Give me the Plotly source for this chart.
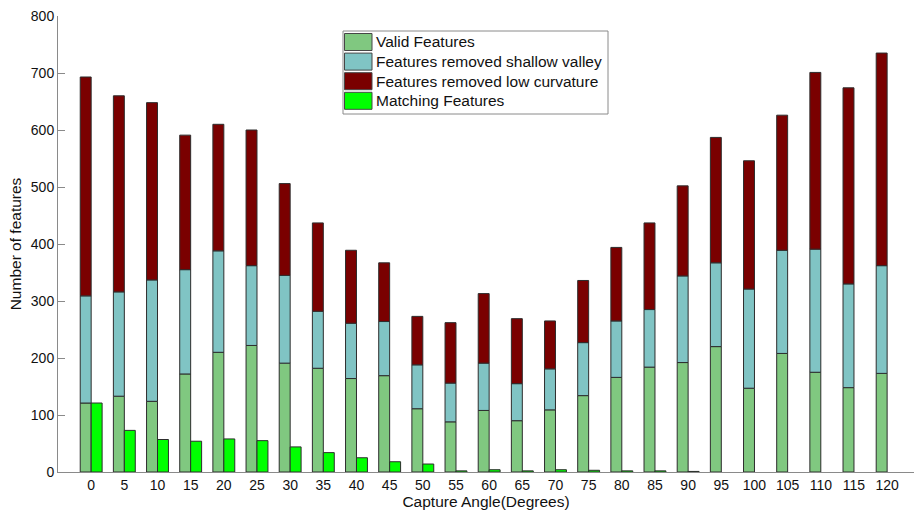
import plotly.graph_objects as go

# Capture angle in degrees (one group of bars per angle)
angles = [0, 5, 10, 15, 20, 25, 30, 35, 40, 45, 50, 55, 60,
          65, 70, 75, 80, 85, 90, 95, 100, 105, 110, 115, 120]

# Stack segments (number of features)
valid_features = [121, 133, 124, 172, 210, 222, 191, 182, 164, 169, 111, 88, 108,
                  90, 109, 134, 166, 184, 192, 220, 147, 208, 175, 148, 173]
removed_shallow_valley = [188, 183, 213, 183, 178, 140, 154, 100, 97, 95, 77, 68, 83,
                          65, 72, 93, 99, 101, 152, 147, 174, 181, 216, 182, 189]
removed_low_curvature = [384, 344, 311, 236, 222, 238, 161, 155, 128, 103, 85, 106, 122,
                         114, 84, 109, 129, 152, 158, 220, 225, 237, 310, 344, 373]
matching_features = [121, 73, 57, 54, 58, 55, 44, 34, 25, 18, 14, 2, 4,
                     2, 4, 3, 2, 2, 1, 0, 0, 0, 0, 0, 0]

y_ticks = [0, 100, 200, 300, 400, 500, 600, 700, 800]

series_names = ["Valid Features", "Features removed shallow valley",
                "Features removed low curvature", "Matching Features"]
series_colors = ["#80C880", "#80C4C4", "#7A0000", "#00FF00"]

# Bases for the stacked segments
base_shallow = list(valid_features)
base_curv = [v + s for v, s in zip(valid_features, removed_shallow_valley)]

W, H = 914, 511
M_L, M_R, M_T, M_B = 58, 0, 16, 39
BAR_W = 1.65   # in degrees (x units), one bar of a group
EDGE = dict(color="rgb(45,45,45)", width=1)
FONT = "Liberation Sans, Arial, sans-serif"

fig = go.Figure()
stack = [(valid_features, [0] * len(angles)),
         (removed_shallow_valley, base_shallow),
         (removed_low_curvature, base_curv)]
for (vals, base), name, color in zip(stack, series_names[:3], series_colors[:3]):
    fig.add_trace(go.Bar(
        x=angles, y=vals, base=base, width=BAR_W, offset=-BAR_W, name=name,
        marker=dict(color=color, line=EDGE), showlegend=False))
# Empty bars get no outline
match_edge_w = [1 if v > 0 else 0 for v in matching_features]
fig.add_trace(go.Bar(
    x=angles, y=matching_features, base=[0] * len(angles),
    width=BAR_W, offset=0, name=series_names[3],
    marker=dict(color=series_colors[3],
                line=dict(color=EDGE["color"], width=match_edge_w)),
    showlegend=False))


# Legend box with wide colour patches, placed in paper coordinates
def px_x(px):
    return (px - M_L) / (W - M_L - M_R)


def px_y(py):
    return (H - M_B - py) / (H - M_T - M_B)


shapes = [dict(type="rect", xref="paper", yref="paper",
               x0=px_x(343), x1=px_x(608), y0=px_y(114), y1=px_y(31),
               line=dict(color="#8a8a8a", width=1), fillcolor="white", layer="above")]
annotations = []
row_top, row_step, patch_h = 33.5, 19.6, 17
for i, (name, color) in enumerate(zip(series_names, series_colors)):
    top = row_top + i * row_step
    shapes.append(dict(type="rect", xref="paper", yref="paper",
                       x0=px_x(344.5), x1=px_x(372), y0=px_y(top + patch_h), y1=px_y(top),
                       line=dict(color="rgb(70,70,70)", width=1), fillcolor=color,
                       layer="above"))
    annotations.append(dict(text=name, xref="paper", yref="paper",
                            x=px_x(374), y=px_y(top + patch_h / 2),
                            xanchor="left", yanchor="middle", showarrow=False,
                            font=dict(family=FONT, size=15.5, color="#111")))

fig.update_layout(
    width=W, height=H,
    margin=dict(l=M_L, r=M_R, t=M_T, b=M_B),
    paper_bgcolor="white", plot_bgcolor="white",
    barmode="overlay",
    font=dict(family=FONT, size=14, color="#111"),
    showlegend=False,
    shapes=shapes, annotations=annotations,
    xaxis=dict(
        range=[-5, 124.05], tickvals=angles, ticktext=[str(a) for a in angles],
        showline=True, linecolor="#8a8a8a", linewidth=1,
        ticks="", showgrid=False, zeroline=False,
        title=dict(text="Capture Angle(Degrees)", standoff=0,
                   font=dict(size=15.5)),
        tickfont=dict(size=14),
    ),
    yaxis=dict(
        range=[0, 800], tickvals=y_ticks,
        showline=True, linecolor="#8a8a8a", linewidth=1,
        ticks="inside", ticklen=7, tickcolor="#8a8a8a",
        showgrid=False, zeroline=False,
        title=dict(text="Number of features", standoff=5,
                   font=dict(size=15.5)),
        tickfont=dict(size=14),
    ),
)

fig.write_html("out.html")
